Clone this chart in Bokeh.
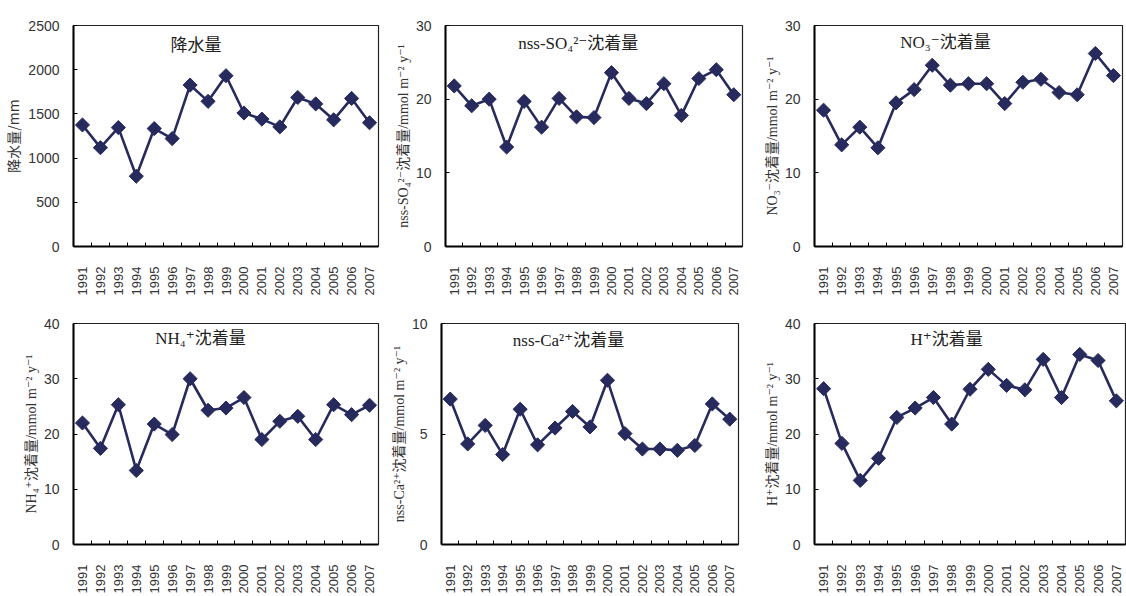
import numpy as np
from bokeh.plotting import figure
from bokeh.layouts import column, row
from bokeh.models import Range1d, FixedTicker, Label
from bokeh.embed import file_html
from bokeh.resources import INLINE

years = list(range(1991, 2008))
year_labels = [str(y) for y in years]

precip = [1375, 1118, 1345, 795, 1334, 1221, 1826, 1642, 1932, 1510, 1441, 1353, 1686, 1613, 1433, 1675, 1400]
so4 = [21.8, 19.1, 20.0, 13.5, 19.7, 16.2, 20.1, 17.6, 17.5, 23.6, 20.1, 19.4, 22.1, 17.8, 22.8, 24.0, 20.6]
no3 = [18.5, 13.8, 16.2, 13.4, 19.5, 21.3, 24.6, 21.9, 22.1, 22.1, 19.4, 22.3, 22.7, 20.9, 20.6, 26.2, 23.2]
nh4 = [22.0, 17.4, 25.3, 13.4, 21.8, 19.9, 30.0, 24.3, 24.7, 26.6, 19.0, 22.3, 23.2, 19.0, 25.3, 23.5, 25.2]
ca = [6.58, 4.55, 5.39, 4.07, 6.12, 4.51, 5.27, 6.02, 5.32, 7.43, 5.02, 4.32, 4.32, 4.26, 4.48, 6.36, 5.67]
h = [28.2, 18.3, 11.6, 15.6, 23.0, 24.7, 26.6, 21.8, 28.1, 31.7, 28.8, 28.0, 33.5, 26.6, 34.4, 33.3, 26.0]

NAVY = "#272A5C"
SANS = "'Liberation Sans', Arial, sans-serif"
GOTHIC = "'Noto Sans CJK JP', sans-serif"
SERIF = "'Liberation Serif', 'DejaVu Serif', 'Noto Sans CJK JP', serif"


def panel(values, ymax, ystep, ylabel, ylabel_font, title, title_font, title_xy,
          width, height, left, right, top, bottom):
    p = figure(width=width, height=height, output_backend="svg", toolbar_location=None,
               x_range=Range1d(1990.5, 2007.5), y_range=Range1d(0, ymax),
               min_border_left=left, min_border_right=right,
               min_border_top=top, min_border_bottom=bottom)
    p.xgrid.visible = False
    p.ygrid.visible = False
    p.outline_line_color = "#222222"
    p.outline_line_width = 1.2
    p.background_fill_color = "white"
    p.border_fill_color = "white"

    p.line(years, values, line_color=NAVY, line_width=2.6)
    p.scatter(years, values, marker="square", angle=np.pi / 4, size=10,
              fill_color=NAVY, line_color=NAVY)

    xa = p.xaxis[0]
    xa.ticker = FixedTicker(ticks=years, minor_ticks=[y + 0.5 for y in years[:-1]])
    xa.major_label_overrides = {y: s for y, s in zip(years, year_labels)}
    xa.major_tick_line_color = None
    xa.minor_tick_in = 4
    xa.minor_tick_out = 0
    xa.minor_tick_line_color = "black"
    xa.minor_tick_line_width = 1
    xa.axis_line_width = 2
    xa.axis_line_color = "black"
    xa.major_label_orientation = np.pi / 2
    xa.major_label_standoff = 14
    xa.major_label_text_font = SANS
    xa.major_label_text_font_size = "13px"
    xa.major_label_text_color = "#333333"

    ya = p.yaxis[0]
    ya.ticker = FixedTicker(ticks=list(np.arange(0, ymax + ystep / 2, ystep)))
    ya.major_tick_in = 4
    ya.major_tick_out = 0
    ya.major_tick_line_color = "black"
    ya.minor_tick_line_color = None
    ya.axis_line_width = 2
    ya.axis_line_color = "black"
    ya.major_label_standoff = 14
    ya.major_label_text_font = SANS
    ya.major_label_text_font_size = "14px"
    ya.major_label_text_color = "#333333"
    ya.axis_label = ylabel
    ya.axis_label_text_font = ylabel_font
    ya.axis_label_text_font_size = "14px"
    ya.axis_label_text_font_style = "normal"
    ya.axis_label_text_color = "#333333"
    ya.axis_label_standoff = 2

    p.add_layout(Label(x=title_xy[0], y=title_xy[1], text=title, text_font=title_font,
                       text_font_size="17px", text_color="#222222",
                       text_align="center", text_baseline="middle"))
    return p


f1 = panel(precip, 2500, 500, "降水量/mm", GOTHIC, "降水量", GOTHIC, (1997.33, 2302),
           380, 298, 72, 2, 21, 50)
f2 = panel(so4, 30, 10, "nss-SO₄²⁻沈着量/mmol m⁻² y⁻¹", SERIF, "nss-SO₄²⁻沈着量", SERIF,
           (1998.1, 27.6), 370, 298, 65, 8, 25, 46)
f3 = panel(no3, 30, 10, "NO₃⁻沈着量/mmol m⁻² y⁻¹", SERIF, "NO₃⁻沈着量", SERIF,
           (1997.73, 27.7), 376, 298, 64, 4, 25, 51)
f4 = panel(nh4, 40, 10, "NH₄⁺沈着量/mmol m⁻² y⁻¹", SERIF, "NH₄⁺沈着量", SERIF,
           (1997.58, 37.2), 380, 298, 73, 2, 25, 48)
f5 = panel(ca, 10, 5, "nss-Ca²⁺沈着量/mmol m⁻² y⁻¹", SERIF, "nss-Ca²⁺沈着量", SERIF,
           (1997.77, 9.25), 370, 298, 61, 12, 21, 50)
f6 = panel(h, 40, 10, "H⁺沈着量/mmol m⁻² y⁻¹", SERIF, "H⁺沈着量", SERIF,
           (1997.72, 37.1), 376, 298, 64, 1, 18, 47)

layout = column(row(f1, f2, f3), row(f4, f5, f6))
open("out.html", "w").write(file_html(layout, INLINE))
